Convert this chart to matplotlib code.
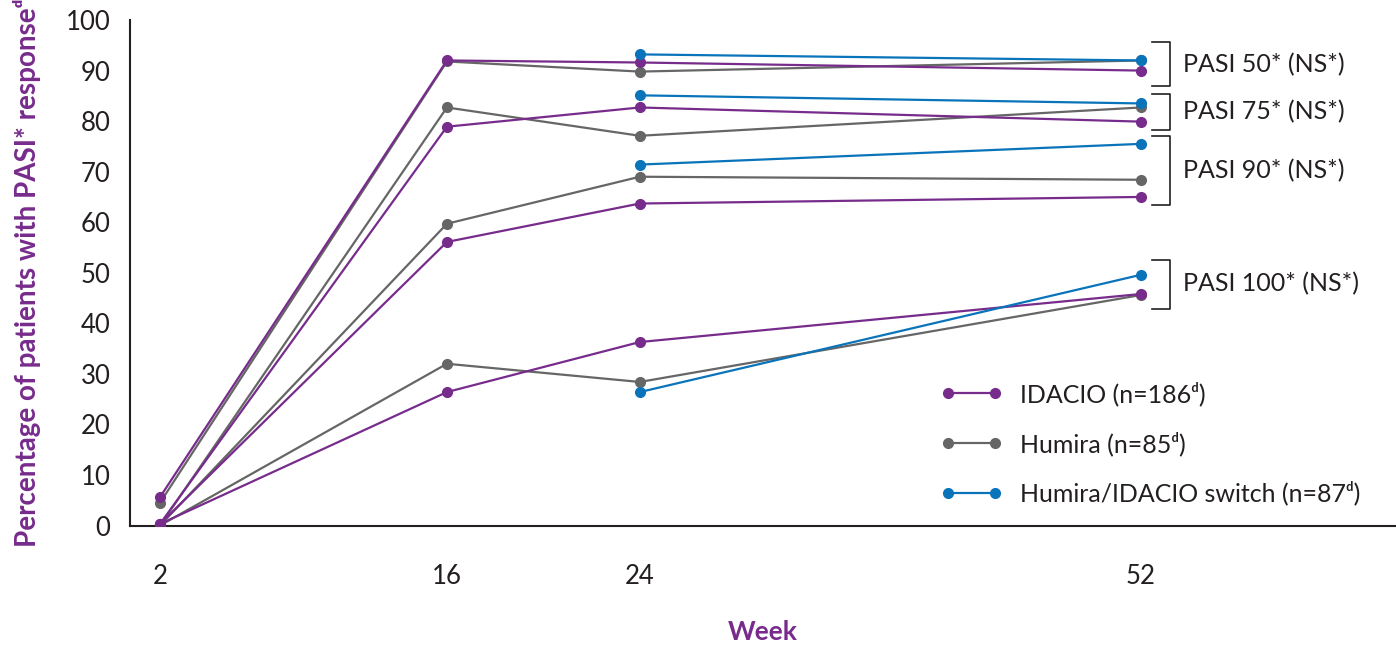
import matplotlib.pyplot as plt
from matplotlib.lines import Line2D

# week labels on the x axis
weeks = ["2", "16", "24", "52"]
switch_weeks = ["24", "52"]

# PASI endpoints, top to bottom
endpoints = ["PASI 50* (NS*)", "PASI 75* (NS*)", "PASI 90* (NS*)", "PASI 100* (NS*)"]

# % responders, one row per endpoint (PASI 50, 75, 90, 100)
idacio = [
    [5.6, 92.0, 91.6, 90.0],
    [0.3, 78.9, 82.7, 79.9],
    [0.3, 56.1, 63.7, 65.0],
    [0.3, 26.4, 36.3, 45.8],
]
humira = [
    [4.5, 91.8, 89.8, 92.0],
    [0.0, 82.7, 77.1, 82.7],
    [0.0, 59.7, 69.0, 68.4],
    [0.0, 32.0, 28.4, 45.6],
]
switch = [
    [93.2, 92.0],
    [85.1, 83.5],
    [71.4, 75.5],
    [26.4, 49.6],
]

# bracket spans (lower, upper) for each endpoint group
brackets = [(86.9, 95.6), (78.3, 85.4), (63.5, 77.0), (42.9, 52.6)]

legend_labels = ["IDACIO (n=186\u1d48)", "Humira (n=85\u1d48)", "Humira/IDACIO switch (n=87\u1d48)"]

purple = "#772c8c"
grey = "#666666"
blue = "#0a74bb"
dark = "#231f20"

# uneven spacing of the weeks as drawn in the original
week_pos = {"2": 0.0, "16": 1.0, "24": 1.672, "52": 3.418}

plt.rcParams["font.family"] = ["Lato", "DejaVu Sans"]

fig = plt.figure(figsize=(13.96, 6.46), dpi=100)
ax = fig.add_axes([0.0931, 0.1865, 0.9069, 0.7825])

x_all = [week_pos[w] for w in weeks]
x_sw = [week_pos[w] for w in switch_weeks]

for row in humira:
    ax.plot(x_all, row, color=grey, lw=1.6, marker="o", ms=7, zorder=3)
for row in idacio:
    ax.plot(x_all, row, color=purple, lw=1.6, marker="o", ms=7, zorder=4)
for row in switch:
    ax.plot(x_sw, row, color=blue, lw=1.6, marker="o", ms=7, zorder=5)

# brackets and group labels on the right
bx = 3.519
for (lo, hi), name in zip(brackets, endpoints):
    ax.plot([bx - 0.063, bx, bx, bx - 0.063], [hi, hi, lo, lo], color=dark, lw=1.2, clip_on=False)
    ax.text(bx + 0.045, (lo + hi) / 2, name, fontsize=18, color=dark, va="center", ha="left")

ax.set_xlim(-0.1045, 4.307)
ax.set_ylim(0, 100)
ax.set_yticks(range(0, 101, 10))
ax.set_xticks(x_all)
ax.set_xticklabels(weeks)
ax.tick_params(axis="both", length=0, labelsize=18.5, colors=dark)
ax.tick_params(axis="x", pad=28)
ax.tick_params(axis="y", pad=14)

for s in ["top", "right"]:
    ax.spines[s].set_visible(False)
for s in ["left", "bottom"]:
    ax.spines[s].set_color(dark)
    ax.spines[s].set_linewidth(1.5)

ax.set_xlabel("Week", fontsize=19, fontweight="bold", color=purple, labelpad=22)
ax.set_ylabel("Percentage of patients with PASI* response\u1d48", fontsize=20, fontweight="bold",
              color=purple, labelpad=18)

handles = [Line2D([], [], color=c, lw=1.6, marker="o", ms=7) for c in (purple, grey, blue)]
ax.legend(handles, legend_labels, loc="lower right", bbox_to_anchor=(0.99, -0.005),
          numpoints=2, frameon=False, fontsize=18, handlelength=2.5, labelspacing=1.0,
          handletextpad=0.7, labelcolor=dark)

fig.savefig("out.png", dpi=100)
